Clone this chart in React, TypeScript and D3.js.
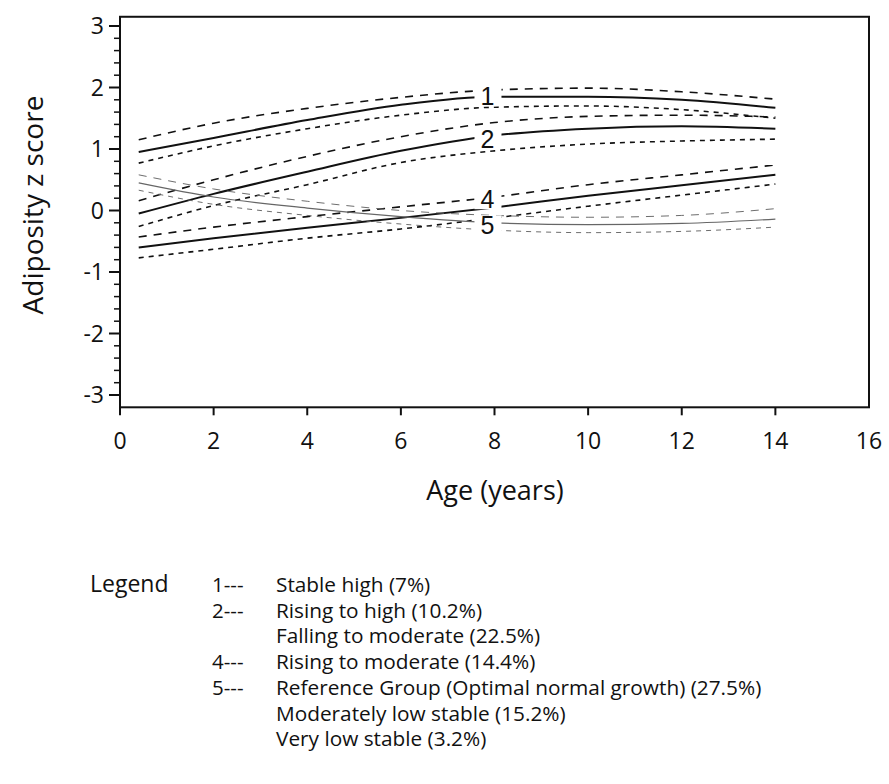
import React from 'react';
import * as d3 from 'd3';

const ages = [0.4, 2, 4, 6, 8, 10, 12, 14];

// 1 - stable high
const g1 = [0.95, 1.18, 1.47, 1.72, 1.85, 1.85, 1.8, 1.67];
const g1Upper = [1.15, 1.42, 1.66, 1.84, 1.96, 1.99, 1.93, 1.81];
const g1Lower = [0.77, 1.05, 1.33, 1.55, 1.68, 1.7, 1.64, 1.5];
// 2 - rising to high
const g2 = [-0.05, 0.27, 0.63, 0.97, 1.22, 1.33, 1.37, 1.33];
const g2Upper = [0.16, 0.5, 0.88, 1.2, 1.43, 1.53, 1.55, 1.52];
const g2Lower = [-0.26, 0.08, 0.42, 0.78, 0.97, 1.08, 1.13, 1.16];
// 4 - rising to moderate
const g4 = [-0.6, -0.45, -0.28, -0.12, 0.05, 0.24, 0.41, 0.58];
const g4Upper = [-0.43, -0.27, -0.1, 0.06, 0.22, 0.42, 0.58, 0.74];
const g4Lower = [-0.77, -0.63, -0.45, -0.3, -0.12, 0.07, 0.25, 0.43];
// 5 - reference group
const g5 = [0.45, 0.22, 0.04, -0.1, -0.2, -0.23, -0.21, -0.14];
const g5Upper = [0.58, 0.35, 0.15, 0.0, -0.08, -0.11, -0.08, 0.03];
const g5Lower = [0.33, 0.1, -0.08, -0.22, -0.32, -0.36, -0.34, -0.27];

const lineLabels = ['1', '2', '4', '5'];
const labelAge = 7.85;

const xTicks = [0, 2, 4, 6, 8, 10, 12, 14, 16];
const yTicks = [-3, -2, -1, 0, 1, 2, 3];

const legendKeys = ['1---', '2---', '', '4---', '5---', '', ''];
const legendItems = [
  'Stable high (7%)',
  'Rising to high (10.2%)',
  'Falling to moderate (22.5%)',
  'Rising to moderate (14.4%)',
  'Reference Group (Optimal normal growth) (27.5%)',
  'Moderately low stable (15.2%)',
  'Very low stable (3.2%)',
];

const font = "'Open Sans', 'DejaVu Sans', sans-serif";

const App = () => {
  const width = 889;
  const height = 784;
  const left = 120;
  const right = 869;

  const x = d3.scaleLinear().domain([0, 16]).range([left, right]);
  const y = d3.scaleLinear().domain([-3, 3]).range([395, 26]);
  const yTop = y(3.15);
  const yBottom = y(-3.2);

  const line = d3
    .line<number>()
    .x((_, i) => x(ages[i]))
    .y((d) => y(d))
    .curve(d3.curveMonotoneX);

  const longDash = '8,7';
  const shortDash = '5,5';

  const groups = [
    { mid: g1, up: g1Upper, lo: g1Lower, color: '#111', w: 2, dy: -1 },
    { mid: g2, up: g2Upper, lo: g2Lower, color: '#111', w: 2, dy: 2 },
    { mid: g4, up: g4Upper, lo: g4Lower, color: '#111', w: 2, dy: -9 },
    { mid: g5, up: g5Upper, lo: g5Lower, color: '#666', w: 1.2, dy: 3 },
  ];

  const valueAt = (vals: number[], a: number) => {
    const i = d3.bisectRight(ages, a) - 1;
    const t = (a - ages[i]) / (ages[i + 1] - ages[i]);
    return vals[i] + t * (vals[i + 1] - vals[i]);
  };

  const labelPos = groups.map((g) => ({
    cx: x(labelAge),
    cy: y(valueAt(g.mid, labelAge)) + g.dy,
  }));

  const minorTicks = d3.range(-3, 3.01, 0.2).filter((v) => Math.abs(v - Math.round(v)) > 0.01);

  return (
    <svg
      width={width}
      height={height}
      style={{ position: 'absolute', left: 0, top: 0, background: '#fff' }}
      fontFamily={font}
    >
      {/* curves */}
      {groups.map((g, i) => (
        <g key={i} fill="none" stroke={g.color}>
          <path d={line(g.up) || ''} strokeWidth={g.w * 0.8} strokeDasharray={longDash} />
          <path d={line(g.lo) || ''} strokeWidth={g.w * 0.8} strokeDasharray={shortDash} />
          <path d={line(g.mid) || ''} strokeWidth={g.w} />
        </g>
      ))}

      {/* gaps in the curves behind the inline labels */}
      {labelPos.map((p, i) => (
        <rect key={'r' + i} x={p.cx - 13} y={p.cy - 10} width={27} height={20} fill="#fff" />
      ))}
      {labelPos.map((p, i) => (
        <text
          key={'l' + i}
          x={p.cx}
          y={p.cy + 9}
          textAnchor="middle"
          fontSize={25}
          fontFamily="'Liberation Sans', Arial, sans-serif"
          fill="#111"
        >
          {lineLabels[i]}
        </text>
      ))}

      {/* frame */}
      <rect
        x={left}
        y={yTop}
        width={right - left}
        height={yBottom - yTop}
        fill="none"
        stroke="#111"
        strokeWidth={2}
      />

      {/* y axis ticks */}
      {yTicks.map((t) => (
        <g key={'y' + t}>
          <line x1={left - 11} x2={left} y1={y(t)} y2={y(t)} stroke="#111" strokeWidth={2} />
          <text x={left - 16} y={y(t) + 8} textAnchor="end" fontSize={23} fill="#111">
            {t}
          </text>
        </g>
      ))}
      {minorTicks.map((t) => (
        <line key={'m' + t} x1={left - 6} x2={left} y1={y(t)} y2={y(t)} stroke="#111" strokeWidth={1.5} />
      ))}

      {/* x axis ticks */}
      {xTicks.map((t) => (
        <g key={'x' + t}>
          {t < 16 && (
            <line x1={x(t)} x2={x(t)} y1={yBottom} y2={yBottom + 8} stroke="#111" strokeWidth={2} />
          )}
          <text x={x(t)} y={yBottom + 42} textAnchor="middle" fontSize={23} fill="#111">
            {t}
          </text>
        </g>
      ))}

      {/* axis titles */}
      <text x={495} y={500} textAnchor="middle" fontSize={27} fill="#111">
        Age (years)
      </text>
      <text
        transform={`translate(43,205) rotate(-90)`}
        textAnchor="middle"
        fontSize={28}
        fill="#111"
      >
        Adiposity z score
      </text>

      {/* legend */}
      <text x={90} y={592} fontSize={23} fill="#111">
        Legend
      </text>
      {legendItems.map((item, i) => (
        <g key={'lg' + i}>
          {legendKeys[i] && (
            <text x={212} y={592 + i * 25.7} fontSize={20.5} fill="#111">
              {legendKeys[i]}
            </text>
          )}
          <text x={276} y={592 + i * 25.7} fontSize={20.8} fill="#111">
            {item}
          </text>
        </g>
      ))}
    </svg>
  );
};

export default App;
